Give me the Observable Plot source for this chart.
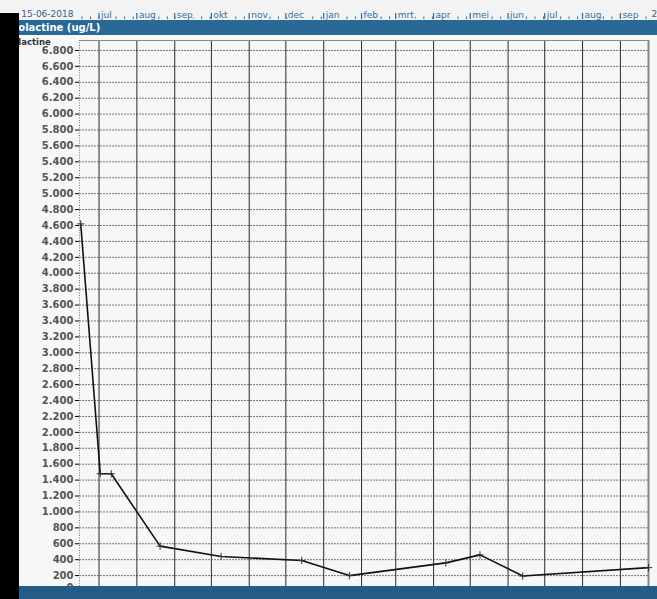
<!DOCTYPE html>
<html><head><meta charset="utf-8">
<script src="https://cdn.jsdelivr.net/npm/d3@7"></script>
<script src="https://cdn.jsdelivr.net/npm/@observablehq/plot@0.6"></script>
<style>
html,body{margin:0;padding:0;background:#f7f7f7;}
#wrap{position:relative;width:657px;height:599px;overflow:hidden;background:#f7f7f7;font-family:"DejaVu Sans",sans-serif;}
#hdr{position:absolute;left:0;top:0;width:657px;height:20px;background:#f3f3f3;}
#band{position:absolute;left:0;top:20px;width:657px;height:15px;background:#2a6896;color:#fff;font:bold 10px "DejaVu Sans",sans-serif;line-height:15px;}
#band span{position:absolute;left:6px;top:0;}
#main{position:absolute;left:0;top:35px;}
#ylab{position:absolute;left:2px;top:37px;font:bold 8.5px "DejaVu Sans",sans-serif;color:#333;}
#bottom{position:absolute;left:0;top:586px;width:657px;height:13px;background:#245c86;}
#black{position:absolute;left:0;top:13px;width:19px;height:586px;background:#000;}
svg text{font-family:"DejaVu Sans",sans-serif;}
#main svg g[aria-label="y-axis tick label"] text,#main svg g[aria-label="y-axis"] text{font-weight:bold;fill:#555;}
</style></head>
<body>
<div id="wrap">
  <div id="hdr"></div>
  <div id="band"><span>Prolactine (ug/L)</span></div>
  <div id="main"></div>
  <div id="ylab">Prolactine</div>
  <div id="bottom"></div>
  <div id="black"></div>
</div>
<script>
// ---- data ----
const startDate = new Date(Date.UTC(2018, 5, 15));
const endDate = new Date(Date.UTC(2019, 8, 24));
const startLabel = "15-06-2018";
const endLabel = "24-09-2019";
const monthLabels = ["jul","aug","sep","okt","nov","dec","jan","feb","mrt","apr","mei","jun","jul","aug","sep"];
const sampleDates = ["2018-06-16","2018-07-02","2018-07-11","2018-08-20","2018-10-09","2018-12-14","2019-01-22","2019-04-11","2019-05-09","2019-06-13","2019-09-24"];
const sampleValues = [4620, 1480, 1480, 570, 440, 390, 200, 360, 460, 195, 300];
const yTicks = d3.range(0, 6801, 200);
const yMax = 6925;
const refLimit = 45;

const data = sampleDates.map((d, i) => ({date: new Date(d + "T00:00:00Z"), value: sampleValues[i]}));
const monthTicks = d3.utcMonth.range(d3.utcMonth.ceil(startDate), endDate);
const months = monthTicks.map((d, i) => ({date: d, label: monthLabels[i]}));
const weekTicks = d3.utcSunday.range(startDate, endDate);
const fmt = d3.formatLocale({decimal: ",", thousands: ".", grouping: [3], currency: ["€", ""]}).format(",d");

const xOpts = {type: "utc", domain: [startDate, endDate], axis: null};

// header time axis
const header = Plot.plot({
  width: 657, height: 19,
  marginLeft: 79, marginRight: 9, marginTop: 0, marginBottom: 0,
  style: {background: "transparent", overflow: "visible"},
  x: xOpts,
  y: {domain: [0, 1], axis: null},
  marks: [
    Plot.ruleX(weekTicks, {x: d => d, y1: 0, y2: 0.13, stroke: "#2f6f9f"}),
    Plot.ruleX(monthTicks, {x: d => d, y1: 0, y2: 0.32, stroke: "#2f6f9f", strokeWidth: 1.3}),
    Plot.text(months, {x: "date", y: 0, text: "label", textAnchor: "start", lineAnchor: "bottom", dx: 2, dy: -2, fontSize: 9, fill: "#2f6f9f", stroke: "#f3f3f3", strokeWidth: 3}),
    Plot.text([startDate], {x: d => d, y: 0, text: () => startLabel, textAnchor: "end", lineAnchor: "bottom", dx: -6, dy: -3, fontSize: 9, fill: "#3b5f80"}),
    Plot.text([endDate], {x: d => d, y: 0, text: () => endLabel, textAnchor: "start", lineAnchor: "bottom", dx: 3, dy: -3, fontSize: 9, fill: "#3b5f80"})
  ]
});
header.style.position = "absolute";
header.style.left = "0px";
header.style.top = "0px";
document.getElementById("hdr").appendChild(header);

// main chart
const chart = Plot.plot({
  width: 657, height: 564,
  marginLeft: 79, marginRight: 9, marginTop: 5, marginBottom: 8,
  style: {background: "transparent", fontSize: "10px", overflow: "visible"},
  x: xOpts,
  y: {domain: [0, yMax], ticks: yTicks, tickFormat: d => d === 0 ? "" : fmt(d), tickSize: 4, tickPadding: 2, label: null},
  marks: [
    Plot.ruleY(yTicks.filter(d => d > 0), {stroke: "#777", strokeDasharray: "2,1", strokeWidth: 1}),
    Plot.ruleX(monthTicks, {stroke: "#2a2a2a", strokeWidth: 1}),
    Plot.ruleY([yMax], {stroke: "#888", strokeWidth: 1}),
    Plot.ruleX([endDate], {stroke: "#888", strokeWidth: 2}),
    Plot.ruleX([startDate], {stroke: "#777", strokeDasharray: "1,1.5", strokeWidth: 1}),
    Plot.ruleY([refLimit], {stroke: "#f4a35c", strokeWidth: 2.5}),
    Plot.line(data, {x: "date", y: "value", stroke: "#111", strokeWidth: 1.6}),
    Plot.dot(data, {x: "date", y: "value", symbol: "plus", r: 2.5, stroke: "#333", strokeWidth: 1}),
    Plot.text([0], {y: d => d, frameAnchor: "left", text: d => fmt(d), textAnchor: "end", dx: -6, dy: -4, fontSize: 10, fontWeight: "bold", fill: "#555"})
  ]
});
document.getElementById("main").appendChild(chart);
</script>
</body></html>
